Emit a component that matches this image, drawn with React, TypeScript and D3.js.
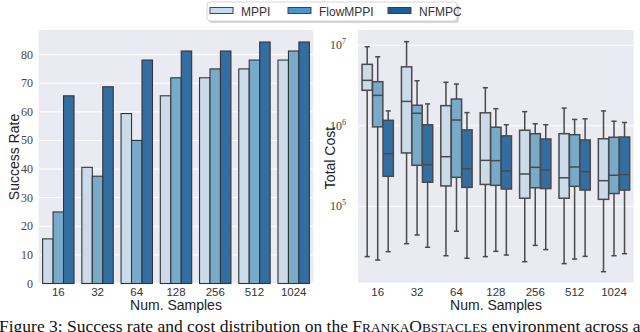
import React from 'react';
import * as d3 from 'd3';

// data
const samples = ['16', '32', '64', '128', '256', '512', '1024'];
const methods = ['MPPI', 'FlowMPPI', 'NFMPC'];

const successMPPI = [15.6, 40.6, 59.4, 65.6, 71.9, 75, 78.1];
const successFlow = [25, 37.5, 50, 71.9, 75, 78.1, 81.25];
const successNF = [65.6, 68.75, 78.1, 81.25, 81.25, 84.4, 84.4];

// cost boxes: [whisker low, q1, median, q3, whisker high]
const costMPPI = [
  [2.37e4, 2.76e6, 3.67e6, 5.8e6, 9.6e6],
  [3.43e4, 4.6e5, 2.01e6, 5.4e6, 1.11e7],
  [2.43e4, 1.79e5, 4.13e5, 1.78e6, 3.47e6],
  [2.37e4, 1.87e5, 3.72e5, 1.45e6, 2.97e6],
  [2.05e4, 1.26e5, 2.52e5, 8.8e5, 1.5e6],
  [1.94e4, 1.26e5, 2.26e5, 7.98e5, 1.66e6],
  [1.54e4, 1.22e5, 2.08e5, 6.9e5, 1.53e6],
];
const costFlow = [
  [2.15e4, 9.7e5, 2.39e6, 3.53e6, 7.2e6],
  [4.4e4, 3.23e5, 1.43e6, 1.8e6, 3.63e6],
  [4.9e4, 2.29e5, 1.18e6, 2.15e6, 3.3e6],
  [2.76e4, 1.82e5, 3.69e5, 9.6e5, 1.63e6],
  [3.27e4, 1.7e5, 3.05e5, 7.98e5, 1.06e6],
  [2.21e4, 1.77e5, 3.08e5, 7.75e5, 1.2e6],
  [2.43e4, 1.44e5, 2.43e5, 7.2e5, 1.14e6],
];
const costNF = [
  [2.73e4, 2.36e5, 4.5e5, 1.17e6, 1.53e6],
  [3.1e4, 1.99e5, 3.29e5, 1.03e6, 1.87e6],
  [2.26e4, 1.72e5, 2.93e5, 8.9e5, 1.46e6],
  [2.48e4, 1.64e5, 2.75e5, 7.5e5, 1.03e6],
  [2.9e4, 1.66e5, 2.83e5, 6.86e5, 1.03e6],
  [2.39e4, 1.59e5, 2.69e5, 6.67e5, 1.22e6],
  [2.58e4, 1.59e5, 2.48e5, 7.26e5, 1.1e6],
];

const successTicks = [0, 10, 20, 30, 40, 50, 60, 70, 80];
const costTicks = [5, 6, 7];

const fillColors = ['#cbdbea', '#78aac9', '#336ea3'];
const legendColors = ['#c6dbef', '#4a94cf', '#215c98'];

const sans = '"Liberation Sans", Arial, sans-serif';
const serif = '"Liberation Serif", "Times New Roman", serif';

const App = () => {
  const successData = [successMPPI, successFlow, successNF];
  const costData = [costMPPI, costFlow, costNF];

  // left panel
  const lx = d3.scaleBand().domain(samples).range([38.7, 313.3]).padding(0);
  const lInner = d3.scaleBand().domain(methods).range([lx.bandwidth() * 0.1, lx.bandwidth() * 0.9]);
  const ly = d3.scaleLinear().domain([0, 88.6]).range([283.5, 30]);

  // right panel
  const rx = d3.scaleBand().domain(samples).range([358, 633.7]).padding(0);
  const rInner = d3.scaleBand().domain(methods).range([rx.bandwidth() * 0.1, rx.bandwidth() * 0.9]);
  const ry = d3.scaleLog().domain([Math.pow(10, 4.051), Math.pow(10, 7.19)]).range([282.7, 30]);

  const boxW = rInner.bandwidth() * 0.98;
  const edge = '#4a4a4a';

  return (
    <svg width={640} height={332} style={{ position: 'absolute', left: 0, top: 0 }}>
      <rect width={640} height={332} fill="#fff" />

      {/* left: success rate */}
      <rect x={38.7} y={30} width={313.3 - 38.7} height={283.5 - 30} fill="#eaeaf2" />
      {successTicks.map((t) => (
        <g key={t}>
          <line x1={38.7} x2={313.3} y1={ly(t)} y2={ly(t)} stroke="#fff" strokeWidth={1} />
          <text x={33} y={ly(t) + 4} textAnchor="end" fontFamily={serif} fontSize={12} fill="#444">
            {t}
          </text>
        </g>
      ))}
      {samples.map((s, i) => (
        <g key={s} transform={`translate(${lx(s)},0)`}>
          {methods.map((m, j) => (
            <rect
              key={m}
              x={lInner(m)}
              y={ly(successData[j][i])}
              width={lInner.bandwidth()}
              height={ly(0) - ly(successData[j][i])}
              fill={fillColors[j]}
              stroke="#333"
              strokeWidth={1.1}
            />
          ))}
          <text x={lx.bandwidth() / 2} y={296} textAnchor="middle" fontFamily={sans} fontSize={11.5} fill="#333">
            {s}
          </text>
        </g>
      ))}
      <text x={176} y={310} textAnchor="middle" fontFamily={sans} fontSize={14} fill="#222">
        Num. Samples
      </text>
      <text transform="translate(19,157) rotate(-90)" textAnchor="middle" fontFamily={sans} fontSize={14} fill="#222">
        Success Rate
      </text>

      {/* right: total cost */}
      <rect x={358} y={30} width={633.7 - 358} height={282.7 - 30} fill="#eaeaf2" />
      {costTicks.map((e) => (
        <g key={e}>
          <line x1={358} x2={633.7} y1={ry(Math.pow(10, e))} y2={ry(Math.pow(10, e))} stroke="#fff" strokeWidth={1} />
          <text x={346} y={ry(Math.pow(10, e)) + 4} textAnchor="end" fontFamily={serif} fontSize={12} fill="#444">
            10
            <tspan dy={-5} fontSize={8}>{e}</tspan>
          </text>
        </g>
      ))}
      {samples.map((s, i) => (
        <g key={s} transform={`translate(${rx(s)},0)`}>
          {methods.map((m, j) => {
            const [lo, q1, med, q3, hi] = costData[j][i];
            const cx = rInner(m) + rInner.bandwidth() / 2;
            return (
              <g key={m}>
                <line x1={cx} x2={cx} y1={ry(hi)} y2={ry(q3)} stroke={edge} strokeWidth={1.5} />
                <line x1={cx} x2={cx} y1={ry(q1)} y2={ry(lo)} stroke={edge} strokeWidth={1.5} />
                <line x1={cx - boxW / 4} x2={cx + boxW / 4} y1={ry(hi)} y2={ry(hi)} stroke={edge} strokeWidth={1.5} />
                <line x1={cx - boxW / 4} x2={cx + boxW / 4} y1={ry(lo)} y2={ry(lo)} stroke={edge} strokeWidth={1.5} />
                <rect
                  x={cx - boxW / 2}
                  y={ry(q3)}
                  width={boxW}
                  height={ry(q1) - ry(q3)}
                  fill={fillColors[j]}
                  stroke={edge}
                  strokeWidth={1.5}
                />
                <line x1={cx - boxW / 2} x2={cx + boxW / 2} y1={ry(med)} y2={ry(med)} stroke={edge} strokeWidth={1.5} />
              </g>
            );
          })}
          <text x={rx.bandwidth() / 2} y={296} textAnchor="middle" fontFamily={sans} fontSize={11.5} fill="#333">
            {s}
          </text>
        </g>
      ))}
      <text x={496} y={310} textAnchor="middle" fontFamily={sans} fontSize={14} fill="#222">
        Num. Samples
      </text>
      <text transform="translate(335,158) rotate(-90)" textAnchor="middle" fontFamily={sans} fontSize={14} fill="#222">
        Total Cost
      </text>

      {/* legend */}
      <rect x={209} y={4} width={250} height={19} rx={3} fill="#bbb" opacity={0.6} />
      <rect x={207} y={2} width={250} height={19} rx={3} fill="#fff" stroke="#ccc" strokeWidth={0.8} />
      {methods.map((m, j) => {
        const px = [210, 288, 388][j];
        return (
          <g key={m}>
            <rect x={px} y={7.5} width={23} height={6} fill={legendColors[j]} stroke="#333" strokeWidth={0.9} />
            <text x={px + 31} y={15.5} fontFamily={sans} fontSize={12} fill="#333">
              {m}
            </text>
          </g>
        );
      })}

      {/* caption (cut off by the frame, as in the original) */}
      <text x={-1} y={332} fontFamily={serif} fontSize={17.5} fill="#111">
        Figure 3: Success rate and cost distribution on the F
        <tspan fontSize={13.3}>RANKA</tspan>O<tspan fontSize={13.3}>BSTACLES</tspan> environment across a
      </text>
    </svg>
  );
};

export default App;
